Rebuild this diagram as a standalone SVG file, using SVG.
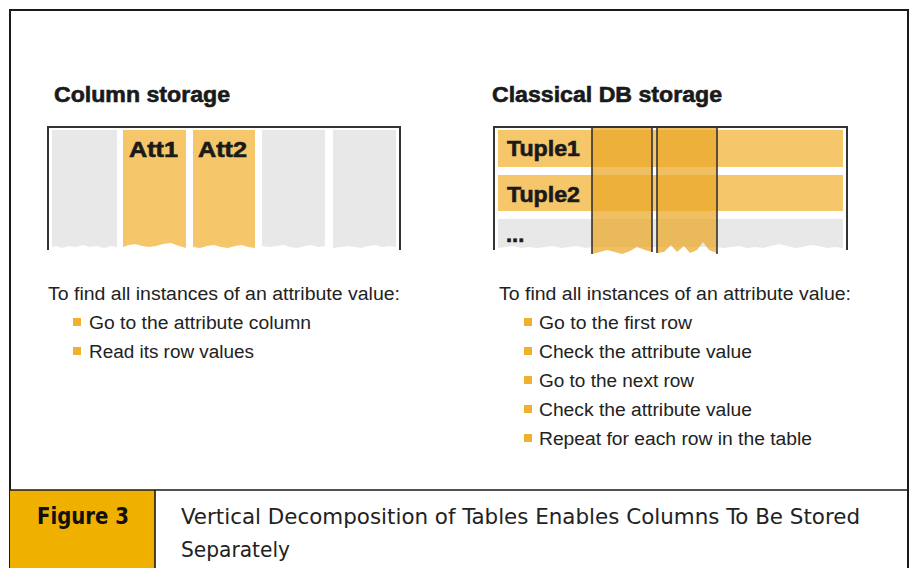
<svg xmlns="http://www.w3.org/2000/svg" width="911" height="568" viewBox="0 0 911 568">
<style>
.frame{fill:none;stroke:#1a1a1a;stroke-width:2}
.tline{fill:none;stroke:#333;stroke-width:2}
.vline{fill:none;stroke:#333;stroke-width:1.6}
.gray{fill:#e8e8e8}
.org{fill:#f5c76a}
.dark{fill:#e9a92c;fill-opacity:0.75}
.head{font-family:"Liberation Sans",Arial,sans-serif;font-weight:bold;font-size:22px;fill:#1a1a1a;stroke:#1a1a1a;stroke-width:0.6}
.lab{font-family:"Liberation Sans",Arial,sans-serif;font-weight:bold;font-size:22px;fill:#1a1a1a;stroke:#1a1a1a;stroke-width:0.6}
.body{font-family:"Liberation Sans",Arial,sans-serif;font-size:18px;fill:#222}
.bul{fill:#f0b030}
.cap{font-family:"Liberation Sans Narrow","DejaVu Sans Condensed","Liberation Sans",sans-serif;font-size:22px;fill:#222}
.capb{font-family:"Liberation Sans Narrow","DejaVu Sans Condensed","Liberation Sans",sans-serif;font-size:23px;font-weight:bold;fill:#111}
</style>
<rect x="0" y="0" width="911" height="568" fill="#ffffff"/>
<rect x="10" y="10" width="898" height="570" class="frame"/>

<g id="column-storage">
<text x="54" y="102" class="head" textLength="176" lengthAdjust="spacingAndGlyphs">Column storage</text>
<path class="gray" d="M52 130H117V247L111 246L104 248L97 246L90 247L83 245L76 247L69 246L62 248L56 246L52 247Z"/>
<path class="org" d="M123 130H186V248L179 246L171 243L163 244L156 246L149 247L142 246L135 244L129 245L123 247Z"/>
<path class="org" d="M193 130H255V248L248 247L242 245L235 246L228 248L221 247L214 245L207 246L200 248L193 247Z"/>
<path class="gray" d="M262 130H325V246L318 247L311 245L305 246L297 248L290 247L284 245L277 246L270 247L262 246Z"/>
<path class="gray" d="M333 130H396V247L389 246L382 247L376 245L368 246L361 248L355 247L348 246L340 247L333 248Z"/>
<path class="tline" d="M48 250V127H400V250"/>
<text x="129" y="157" class="lab" textLength="49" lengthAdjust="spacingAndGlyphs">Att1</text>
<text x="198" y="157" class="lab" textLength="49" lengthAdjust="spacingAndGlyphs">Att2</text>
</g>

<g id="column-text">
<text x="48" y="300" class="body" textLength="352" lengthAdjust="spacingAndGlyphs">To find all instances of an attribute value:</text>
<rect x="73" y="318" width="8" height="8" class="bul"/>
<text x="89" y="329" class="body" textLength="222" lengthAdjust="spacingAndGlyphs">Go to the attribute column</text>
<rect x="73" y="347" width="8" height="8" class="bul"/>
<text x="89" y="358" class="body" textLength="165" lengthAdjust="spacingAndGlyphs">Read its row values</text>
</g>

<g id="classical-storage">
<text x="492" y="102" class="head" textLength="230" lengthAdjust="spacingAndGlyphs">Classical DB storage</text>
<rect x="498" y="130" width="345" height="37" class="org"/>
<rect x="498" y="175" width="345" height="36" class="org"/>
<path class="gray" d="M498 219H843V248L835 247L827 248L819 246L811 245L803 247L795 248L787 246L779 244L771 246L763 248L755 247L747 248L739 246L731 247L723 248L717 247L592 247L585 248L577 246L569 247L561 248L553 246L545 247L537 248L529 247L521 248L513 246L505 247L498 248Z"/>
<path class="dark" d="M592 127H652V252L645 250L637 247L630 251L622 254L615 252L607 250L600 252L592 254Z"/>
<path class="dark" d="M657 127H717V253L709 250L703 242L697 250L690 253L684 246L677 252L671 245L664 252L657 253Z"/>
<path class="tline" d="M494 250V127H847V250"/>
<path class="vline" d="M592 127V254M652 127V252M657 127V253M717 127V254"/>
<text x="507" y="156" class="lab" textLength="73" lengthAdjust="spacingAndGlyphs">Tuple1</text>
<text x="507" y="202" class="lab" textLength="73" lengthAdjust="spacingAndGlyphs">Tuple2</text>
<text x="506" y="242" class="lab">...</text>
</g>

<g id="classical-text">
<text x="499" y="300" class="body" textLength="352" lengthAdjust="spacingAndGlyphs">To find all instances of an attribute value:</text>
<rect x="524" y="318" width="8" height="8" class="bul"/>
<text x="539" y="329" class="body" textLength="153" lengthAdjust="spacingAndGlyphs">Go to the first row</text>
<rect x="524" y="347" width="8" height="8" class="bul"/>
<text x="539" y="358" class="body" textLength="213" lengthAdjust="spacingAndGlyphs">Check the attribute value</text>
<rect x="524" y="376" width="8" height="8" class="bul"/>
<text x="539" y="387" class="body" textLength="155" lengthAdjust="spacingAndGlyphs">Go to the next row</text>
<rect x="524" y="405" width="8" height="8" class="bul"/>
<text x="539" y="416" class="body" textLength="213" lengthAdjust="spacingAndGlyphs">Check the attribute value</text>
<rect x="524" y="434" width="8" height="8" class="bul"/>
<text x="539" y="445" class="body" textLength="273" lengthAdjust="spacingAndGlyphs">Repeat for each row in the table</text>
</g>

<g id="caption">
<rect x="10" y="490" width="145" height="80" fill="#f0b000"/>
<path d="M9 490H909M155 490V568" stroke="#1a1a1a" stroke-width="1.6" fill="none"/>
<text x="37" y="524" class="capb" textLength="92" lengthAdjust="spacingAndGlyphs">Figure 3</text>
<text x="181" y="524" class="cap" textLength="679" lengthAdjust="spacingAndGlyphs">Vertical Decomposition of Tables Enables Columns To Be Stored</text>
<text x="181" y="557" class="cap" textLength="109" lengthAdjust="spacingAndGlyphs">Separately</text>
</g>
</svg>
